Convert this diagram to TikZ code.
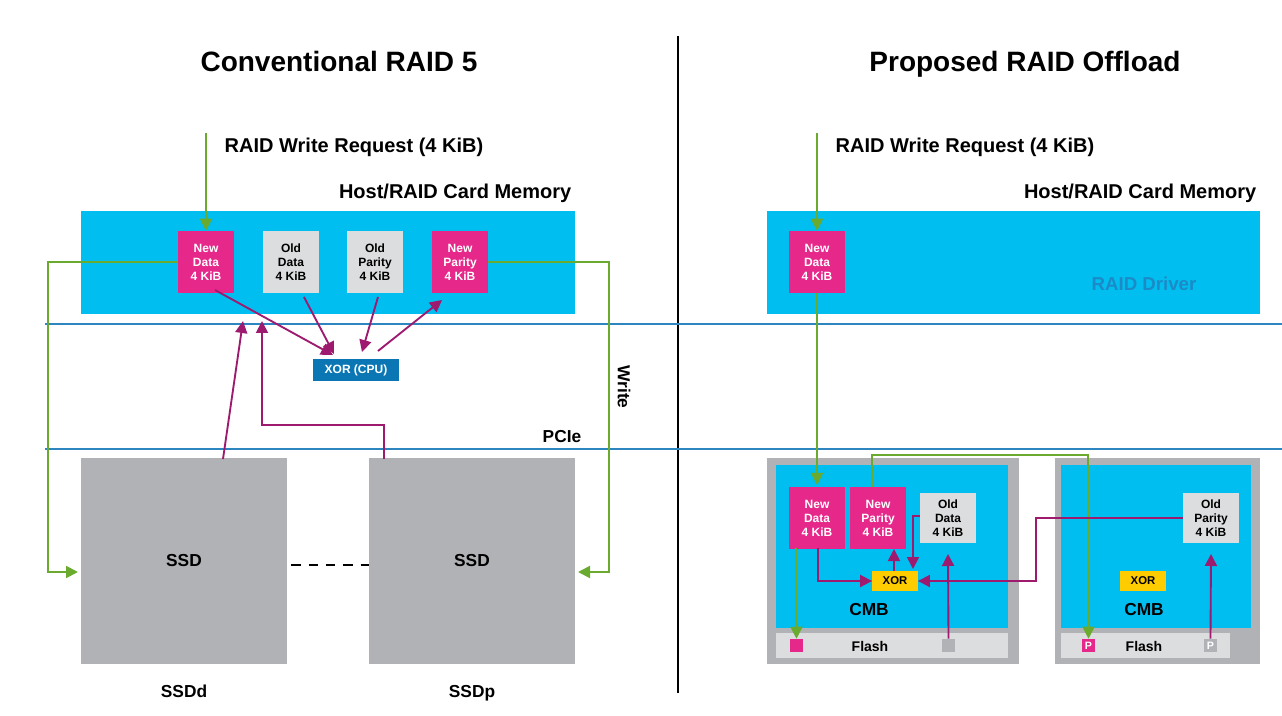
\documentclass[tikz,border=0pt]{standalone}
\usepackage{fontspec}
\setmainfont{Liberation Sans}
\usetikzlibrary{arrows.meta}
\definecolor{cy}{HTML}{00BEF0}
\definecolor{pk}{HTML}{E6288A}
\definecolor{lg}{HTML}{DCDDDF}
\definecolor{dg}{HTML}{B1B2B5}
\definecolor{gn}{HTML}{6AAA2E}
\definecolor{pu}{HTML}{9E1A6E}
\definecolor{bl}{HTML}{2E86C1}
\definecolor{db}{HTML}{0A77B4}
\definecolor{rd}{HTML}{1C8AC6}
\definecolor{ye}{HTML}{FFCC00}
\begin{document}
\begin{tikzpicture}[x=0.75pt,y=-0.75pt,font=\bfseries,
 blk/.style={minimum width=42pt,minimum height=46.5pt,inner sep=0pt,align=center,font=\bfseries\fontsize{9}{10.5}\selectfont},
 new/.style={blk,fill=pk,text=white},
 old/.style={blk,fill=lg,minimum height=37pt},
 xr/.style={fill=ye,minimum width=34pt,minimum height=15pt,inner sep=0pt,font=\bfseries\fontsize{8.5}{9}\selectfont},
 ga/.style={gn,line width=1.4pt,-{Triangle[length=9pt,width=9pt]}},
 pa/.style={pu,line width=1.4pt,-{Triangle[length=9pt,width=9pt]}},
 t1/.style={font=\bfseries\fontsize{21}{24}\selectfont,anchor=base},
 t2/.style={font=\bfseries\fontsize{15}{18}\selectfont},
 t3/.style={font=\bfseries\fontsize{13}{15}\selectfont},
 sq/.style={minimum size=9.75pt,inner sep=0pt,text=white,font=\bfseries\fontsize{8}{9}\selectfont}]
\useasboundingbox (0,0) rectangle (1282,716);
% titles
\node[t1] (tl) at (339,72) {Conventional RAID 5};
\node[t1] (tr) at (1025,72) {Proposed RAID Offload};
\draw[line width=1pt] (678,36) -- (678,693);
% left panel
\node[t2,anchor=base west] (wl) at (220,153) {RAID Write Request (4 KiB)};
\node[t2,anchor=base east] (ml) at (576,199) {Host/RAID Card Memory};
\fill[cy] (81,211) rectangle (575,314);
\node[new] (nd) at (206,262) {New\\Data\\4 KiB};
\node[blk,fill=lg] (od) at (291,262) {Old\\Data\\4 KiB};
\node[blk,fill=lg] (op) at (375,262) {Old\\Parity\\4 KiB};
\node[new] (np) at (460,262) {New\\Parity\\4 KiB};
\draw[bl,line width=1pt] (45,324) -- (1282,324) (45,449) -- (1282,449);
\node[fill=db,text=white,minimum width=64pt,minimum height=16pt,inner sep=0pt,font=\bfseries\fontsize{9}{10}\selectfont] (xc) at (356,370) {XOR (CPU)};
\node[fill=dg,minimum width=154.5pt,minimum height=154pt,inner sep=0pt,t3] (s1) at (184,561) {SSD};
\node[fill=dg,minimum width=154.5pt,minimum height=154pt,inner sep=0pt,t3] (s2) at (472,561) {SSD};
\draw[dash pattern=on 7pt off 6pt,line width=0.8pt] ([xshift=3pt]s1.east|-0,565) -- (s2.west|-0,565);
\node[t3,anchor=base] (l1) at (184,697) {SSDd};
\node[t3,anchor=base] (l2) at (472,697) {SSDp};
\node[t3,rotate=-90] (wr) at (624,387) {Write};
\node[t3] (pc) at (562,437) {PCIe};
\coordinate (a0) at (206,133);
\draw[ga] (a0) -- (nd.north);
\draw[ga] (nd.west) -- (48,262) -- (48,572) -- (78,572);
\draw[ga] (np.east) -- (609,262) -- (609,572) -- (578,572);
\draw[pa] (223,459) -- (243,321);
\draw[pa] (384,459) -- (384,425) -- (262,425) -- (262,321);
\draw[pa] (215,290) -- (333,355);
\draw[pa] (304,297) -- (334,354);
\draw[pa] (378,297) -- (362,352);
\draw[pa] (378,351) -- (442,300);
% right panel
\node[t2,anchor=base west] (wr2) at (831,153) {RAID Write Request (4 KiB)};
\node[t2,anchor=base east] (mr) at (1261,199) {Host/RAID Card Memory};
\fill[cy] (767,211) rectangle (1260,314);
\node[font=\bfseries\fontsize{14}{16}\selectfont,text=rd] (rdv) at (1144,284) {RAID Driver};
\node[new] (hnd) at (817,262) {New\\Data\\4 KiB};
\coordinate (a1) at (817,133);
\draw[ga] (a1) -- (hnd.north);
% SSDd
\fill[dg] (767,458) rectangle (1019,664);
\fill[cy] (776,465) rectangle (1008,628);
\fill[lg] (776,633) rectangle (1008,658);
\node[font=\bfseries\fontsize{10.5}{12}\selectfont] (f1) at (870,646) {Flash};
\node[new] (cnd) at (817,518) {New\\Data\\4 KiB};
\node[new] (cnp) at (878,518) {New\\Parity\\4 KiB};
\node[old] (cod) at (948,518) {Old\\Data\\4 KiB};
\node[xr] (x1) at (895,581) {XOR};
\node[font=\bfseries\fontsize{13}{15}\selectfont] (c1) at (869,610) {CMB};
\node[sq,fill=pk] (q1) at (796.5,645.5) {};
\node[sq,fill=dg] (q2) at (948.5,645.5) {};
% SSDp
\fill[dg] (1055,458) rectangle (1260,664);
\fill[cy] (1061,465) rectangle (1251,628);
\fill[lg] (1061,633) rectangle (1230,658);
\node[font=\bfseries\fontsize{10.5}{12}\selectfont] (f2) at (1144,646) {Flash};
\node[old] (cop) at (1211,518) {Old\\Parity\\4 KiB};
\node[xr] (x2) at (1143,581) {XOR};
\node[font=\bfseries\fontsize{13}{15}\selectfont] (c2) at (1144,610) {CMB};
\node[sq,fill=pk] (p1) at (1088.5,645.5) {P};
\node[sq,fill=dg] (p2) at (1210.5,645.5) {P};
% connectors right
\draw[ga] (hnd.south) -- (817,485);
\draw[ga] (872,487) -- (872,455) -- (1088,455) -- (p1.north);
\draw[ga] (796,548) -- (q1.north);
\draw[pa] (818,548) -- (818,581) -- (x1.west);
\draw[pa] (894,571) -- (894,549);
\draw[pa] (cod.west|-0,516) -- (913,516) -- (913,569);
\draw[pa] (q2.north) -- (948,554);
\draw[pa] (cop.west|-0,518) -- (1036,518) -- (1036,581) -- (x1.east);
\draw[pa] (p2.north) -- (1211,554);
\end{tikzpicture}
\end{document}
